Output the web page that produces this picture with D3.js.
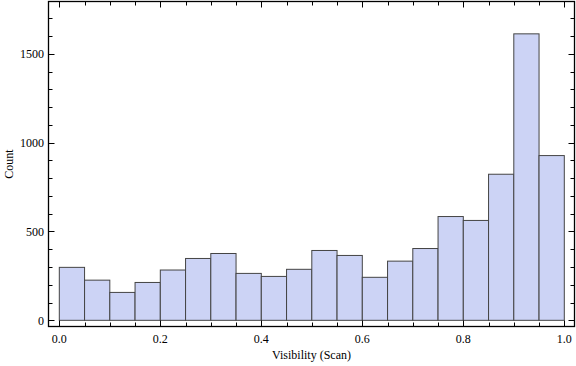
<!DOCTYPE html>
<html>
<head>
<meta charset="utf-8">
<script src="https://cdn.jsdelivr.net/npm/d3@7"></script>
<style>
  body { margin: 0; background: #fff; }
  svg { display: block; }
</style>
</head>
<body>
<div id="hist"></div>
<script>
// bin edges of the visibility histogram and counts per bin
const binLo = [0.00, 0.05, 0.10, 0.15, 0.20, 0.25, 0.30, 0.35, 0.40, 0.45,
               0.50, 0.55, 0.60, 0.65, 0.70, 0.75, 0.80, 0.85, 0.90, 0.95]
const binHi = [0.05, 0.10, 0.15, 0.20, 0.25, 0.30, 0.35, 0.40, 0.45, 0.50,
               0.55, 0.60, 0.65, 0.70, 0.75, 0.80, 0.85, 0.90, 0.95, 1.00]
const counts = [298, 226, 157, 213, 283, 348, 376, 264, 247, 287,
                393, 365, 242, 333, 404, 584, 562, 822, 1612, 927]

const xMajor = [0, 0.2, 0.4, 0.6, 0.8, 1.0]
const xMinor = [0.05, 0.1, 0.15, 0.25, 0.3, 0.35, 0.45, 0.5, 0.55, 0.65, 0.7, 0.75, 0.85, 0.9, 0.95]
const yMajor = [0, 500, 1000, 1500]
const yMinor = [100, 200, 300, 400, 600, 700, 800, 900, 1100, 1200, 1300, 1400, 1600, 1700]

const xLabel = "Visibility (Scan)"
const yLabel = "Count"

drawHist()

function drawHist() {
    width = 576
    height = 366
    const left = 48.5, right = 574.5, top = 1.5, bottom = 326.5

    const x = d3.scaleLinear().domain([-0.0214, 1.0202]).range([left, right])
    const y = d3.scaleLinear().domain([-34.8, 1794]).range([bottom, top])

    const svg = d3.select('#hist')
        .append('svg')
        .attr("width", width)
        .attr("height", height)
        .style("font", "12px 'Liberation Serif', serif");

    const bins = counts.map((c, i) => ({lo: binLo[i], hi: binHi[i], count: c}))

    svg.append("g")
        .selectAll("rect")
        .data(bins)
        .enter().append("rect")
        .attr("x", d => x(d.lo))
        .attr("y", d => y(d.count))
        .attr("width", d => x(d.hi) - x(d.lo))
        .attr("height", d => y(0) - y(d.count))
        .attr("fill", "#ccd3f5")
        .attr("stroke", "#444")
        .attr("stroke-width", 1);

    // frame
    svg.append("rect")
        .attr("x", left).attr("y", top)
        .attr("width", right - left).attr("height", bottom - top)
        .attr("fill", "none")
        .attr("stroke", "#000")
        .attr("stroke-width", 1.3);

    const ticks = svg.append("g").attr("stroke", "#000").attr("stroke-width", 1);
    const tickLines = (vals, len) => {
        vals.forEach(v => {
            const px = Math.round(x(v)) + 0.5
            ticks.append("line").attr("x1", px).attr("x2", px).attr("y1", bottom).attr("y2", bottom - len)
            ticks.append("line").attr("x1", px).attr("x2", px).attr("y1", top).attr("y2", top + len)
        })
    }
    const tickLinesY = (vals, len) => {
        vals.forEach(v => {
            const py = Math.round(y(v)) + 0.5
            ticks.append("line").attr("y1", py).attr("y2", py).attr("x1", left).attr("x2", left + len)
            ticks.append("line").attr("y1", py).attr("y2", py).attr("x1", right).attr("x2", right - len)
        })
    }
    tickLines(xMajor, 6)
    tickLines(xMinor, 4)
    tickLinesY(yMajor, 6)
    tickLinesY(yMinor, 4)

    svg.append("g")
        .selectAll("text")
        .data(xMajor)
        .enter().append("text")
        .attr("x", d => x(d))
        .attr("y", 343)
        .attr("text-anchor", "middle")
        .text(d => d3.format(".1f")(d));

    svg.append("g")
        .selectAll("text")
        .data(yMajor)
        .enter().append("text")
        .attr("x", 44)
        .attr("y", d => y(d))
        .attr("dy", "0.35em")
        .attr("text-anchor", "end")
        .text(d => d);

    svg.append("text")
        .attr("x", (left + right) / 2)
        .attr("y", 359)
        .attr("text-anchor", "middle")
        .text(xLabel);

    svg.append("text")
        .attr("transform", `translate(13,${(top + bottom) / 2}) rotate(-90)`)
        .attr("text-anchor", "middle")
        .text(yLabel);

    return svg.node();
}
</script>
</body>
</html>
